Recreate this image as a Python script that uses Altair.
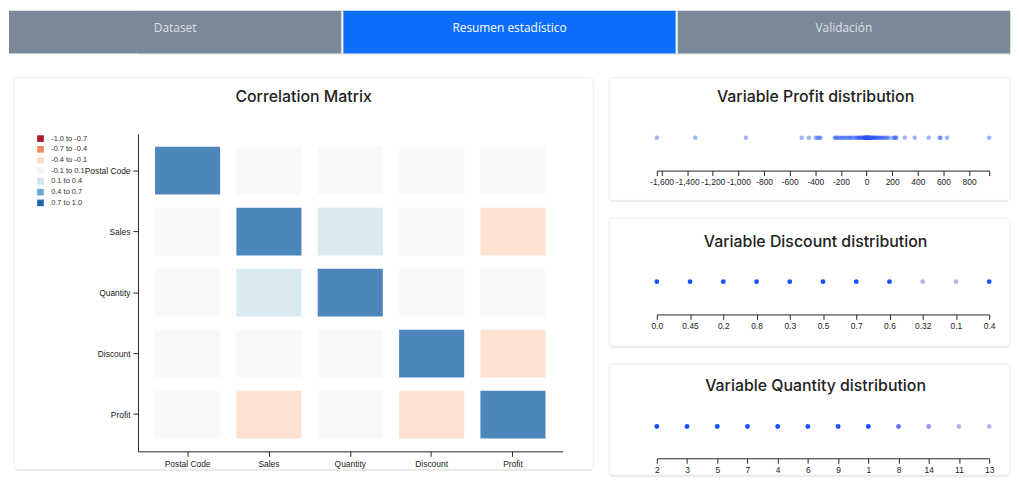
import altair as alt
import pandas as pd

# ---------------- data ----------------
tabs = ["Dataset", "Resumen estadístico", "Validación"]
active_tab = "Resumen estadístico"

variables = ["Postal Code", "Sales", "Quantity", "Discount", "Profit"]
corr_postal = [1.00, -0.03, 0.02, 0.06, -0.04]
corr_sales = [-0.03, 1.00, 0.21, -0.05, -0.19]
corr_quantity = [0.02, 0.21, 1.00, 0.01, 0.03]
corr_discount = [0.06, -0.05, 0.01, 1.00, -0.22]
corr_profit = [-0.04, -0.19, 0.03, -0.22, 1.00]

bucket_labels = ["-1.0 to -0.7", "-0.7 to -0.4", "-0.4 to -0.1", "-0.1 to 0.1",
                 "0.1 to 0.4", "0.4 to 0.7", "0.7 to 1.0"]
bucket_edges = [-1.0, -0.7, -0.4, -0.1, 0.1, 0.4, 0.7, 1.0]
bucket_colors = ["#b2182b", "#ef8a62", "#fddbc7", "#f7f7f7", "#d1e5f0", "#67a9cf", "#2166ac"]

profit_values = [-1637, -1336, -942, -506, -449, -397, -383, -370, -358,
                 -249, -240, -231, -215, -204, -190, -177, -165, -150, -138,
                 -126, -115, -99, -87, -75, -66, -60, -52, -45, -38, -31, -25,
                 -21, -17, -12, -9, -6, -4, -2, 0, 2, 3, 5, 7, 9, 11, 14, 16,
                 18, 22, 26, 30, 35, 40, 46, 52, 57, 63, 70, 78, 85, 96, 105,
                 115, 124, 135, 148, 160, 174, 205, 218, 226, 232, 298, 376,
                 485, 570, 578, 628, 957]
profit_ticks = [-1600, -1400, -1200, -1000, -800, -600, -400, -200, 0, 200, 400, 600, 800]

discount_levels = ["0.0", "0.45", "0.2", "0.8", "0.3", "0.5", "0.7", "0.6", "0.32", "0.1", "0.4"]
discount_counts = [38, 4, 30, 5, 4, 4, 6, 4, 1, 1, 4]

quantity_levels = ["2", "3", "5", "7", "4", "6", "9", "1", "8", "14", "11", "13"]
quantity_counts = [24, 20, 12, 8, 10, 7, 5, 4, 3, 2, 1, 1]

# ---------------- helpers ----------------
FONT = "Liberation Sans"
TITLE_FONT = "Inter"


def card(x1, x2, y1, y2, bleed_left=None):
    base = alt.Chart(pd.DataFrame({"k": [0]}))
    layers = []
    if bleed_left is not None:
        layers.append(base.mark_rect(opacity=0).encode(
            x=alt.value(bleed_left), x2=alt.value(x1), y=alt.value(y1), y2=alt.value(y1 + 5)))
    layers.append(base.mark_rect(fill="#e2e2e2", cornerRadius=4).encode(
        x=alt.value(x1), x2=alt.value(x2), y=alt.value(y1 + 1), y2=alt.value(y2 + 1.5)))
    layers.append(base.mark_rect(fill="white", stroke="#eeeeee", strokeWidth=1, cornerRadius=3).encode(
        x=alt.value(x1), x2=alt.value(x2), y=alt.value(y1), y2=alt.value(y2)))
    return layers


def title_text(text, xc, yc):
    return alt.Chart(pd.DataFrame({"t": [text]})).mark_text(
        font=TITLE_FONT, fontSize=16, fontWeight=500, color="#222222", baseline="middle"
    ).encode(x=alt.value(xc), y=alt.value(yc), text="t:N")


axis_style = dict(domainColor="#222222", tickColor="#222222", labelColor="#222222",
                  labelFont=FONT, labelFontSize=8.5, tickSize=5, grid=False, title=None,
                  zindex=1)

# ---------------- tabs ----------------
tab_df = pd.DataFrame({"tab": tabs, "state": ["on" if t == active_tab else "off" for t in tabs]})
tab_x = alt.X("tab:N", sort=tabs, axis=None,
              scale=alt.Scale(paddingInner=0.006, paddingOuter=0, range=[-130, 879]))
tab_rects = alt.Chart(tab_df).mark_rect().encode(
    x=tab_x,
    color=alt.condition("datum.state == 'on'", alt.value("#0d6efd"), alt.value("#7b8898")),
)
tab_texts = alt.Chart(tab_df).mark_text(font="Open Sans", fontSize=12, dy=-4).encode(
    x=tab_x,
    text="tab:N",
    color=alt.condition("datum.state == 'on'", alt.value("#ffffff"), alt.value("#dde1e6")),
)
tabs_chart = alt.layer(tab_rects, tab_texts).properties(width=879, height=43)

# ---------------- correlation heatmap ----------------
corr_rows = [corr_postal, corr_sales, corr_quantity, corr_discount, corr_profit]
records = []
for i, rv in enumerate(variables):
    for j, cv in enumerate(variables):
        records.append({"row": rv, "col": cv, "value": corr_rows[i][j]})
corr_df = pd.DataFrame(records)
corr_df["bucket"] = pd.cut(corr_df["value"], bins=bucket_edges, labels=bucket_labels,
                           include_lowest=True).astype(str)

heat = alt.Chart(corr_df).mark_rect(opacity=0.8).encode(
    x=alt.X("col:N", sort=variables,
            scale=alt.Scale(paddingInner=0.2, paddingOuter=0.21),
            axis=alt.Axis(labelAngle=0, labelPadding=3, **axis_style)),
    y=alt.Y("row:N", sort=variables,
            scale=alt.Scale(paddingInner=0.22, paddingOuter=0.212),
            axis=alt.Axis(labelPadding=3, **axis_style)),
    color=alt.Color("bucket:N",
                    scale=alt.Scale(domain=bucket_labels, range=bucket_colors),
                    legend=alt.Legend(title=None, orient="none", legendX=-102, legendY=1,
                                      symbolType="square", symbolSize=45, symbolOpacity=1,
                                      symbolStrokeWidth=0, labelFontSize=7.5, labelFont=FONT,
                                      labelColor="#333333", rowPadding=1.8, labelOffset=7)),
)
left_panel = alt.layer(
    *card(-125, 459, -57, 338, bleed_left=-130),
    title_text("Correlation Matrix", 167, -37),
    heat,
).properties(width=428, height=320)

# ---------------- profit strip ----------------
profit_df = pd.DataFrame({"profit": profit_values})
pmin, pmax = min(profit_values), max(profit_values)
profit_pts = alt.Chart(profit_df).mark_circle(size=20, color="#2a55f5", opacity=0.45).encode(
    x=alt.X("profit:Q",
            scale=alt.Scale(domain=[pmin, pmax], nice=False, zero=False),
            axis=alt.Axis(values=[pmin] + profit_ticks + [pmax],
                          labelExpr="datum.value % 200 == 0 ? replace(format(datum.value, ','), '\u2212', '-') : ''",
                          offset=29, labelOverlap=False, labelFlush=False, labelPadding=2,
                          **axis_style)),
)
profit_panel = alt.layer(
    *card(-48, 356, -57, 67),
    title_text("Variable Profit distribution", 160, -37),
    profit_pts,
).properties(width=335, height=8)

# ---------------- discount strip ----------------
disc_df = pd.DataFrame({"discount": discount_levels, "count": discount_counts})
disc_pts = alt.Chart(disc_df).mark_circle(size=24, opacity=1).encode(
    x=alt.X("discount:N", sort=discount_levels,
            scale=alt.Scale(type="point", padding=0),
            axis=alt.Axis(labelAngle=0, offset=29, labelPadding=2, **axis_style)),
    color=alt.Color("count:Q", scale=alt.Scale(domain=[1, 4], range=["#b9b3f0", "#1652ff"], clamp=True),
                    legend=None),
)
discount_panel = alt.layer(
    *card(-48, 356, -60, 69),
    title_text("Variable Discount distribution", 160, -36),
    disc_pts,
).properties(width=335, height=8)

# ---------------- quantity strip ----------------
qty_df = pd.DataFrame({"quantity": quantity_levels, "count": quantity_counts})
qty_pts = alt.Chart(qty_df).mark_circle(size=24, opacity=1).encode(
    x=alt.X("quantity:N", sort=quantity_levels,
            scale=alt.Scale(type="point", padding=0),
            axis=alt.Axis(labelAngle=0, offset=28, labelPadding=2, **axis_style)),
    color=alt.Color("count:Q", scale=alt.Scale(domain=[1, 4], range=["#b9b3f0", "#1652ff"], clamp=True),
                    legend=None),
)
quantity_panel = alt.layer(
    *card(-48, 356, -59, 53),
    title_text("Variable Quantity distribution", 160, -37),
    qty_pts,
).properties(width=335, height=8)

right_col = alt.vconcat(profit_panel, discount_panel, quantity_panel, spacing=15).resolve_scale(
    color="independent")
row2 = alt.hconcat(left_panel, right_col, spacing=14).resolve_scale(color="independent")

chart = alt.vconcat(tabs_chart, row2, spacing=22).resolve_scale(color="independent").properties(
    padding={"left": 0, "top": 0, "right": 0, "bottom": 0}
).configure_view(strokeWidth=0, stroke="transparent").configure(background="white")

chart.save("out.html", embed_options={"renderer": "svg", "actions": False})
